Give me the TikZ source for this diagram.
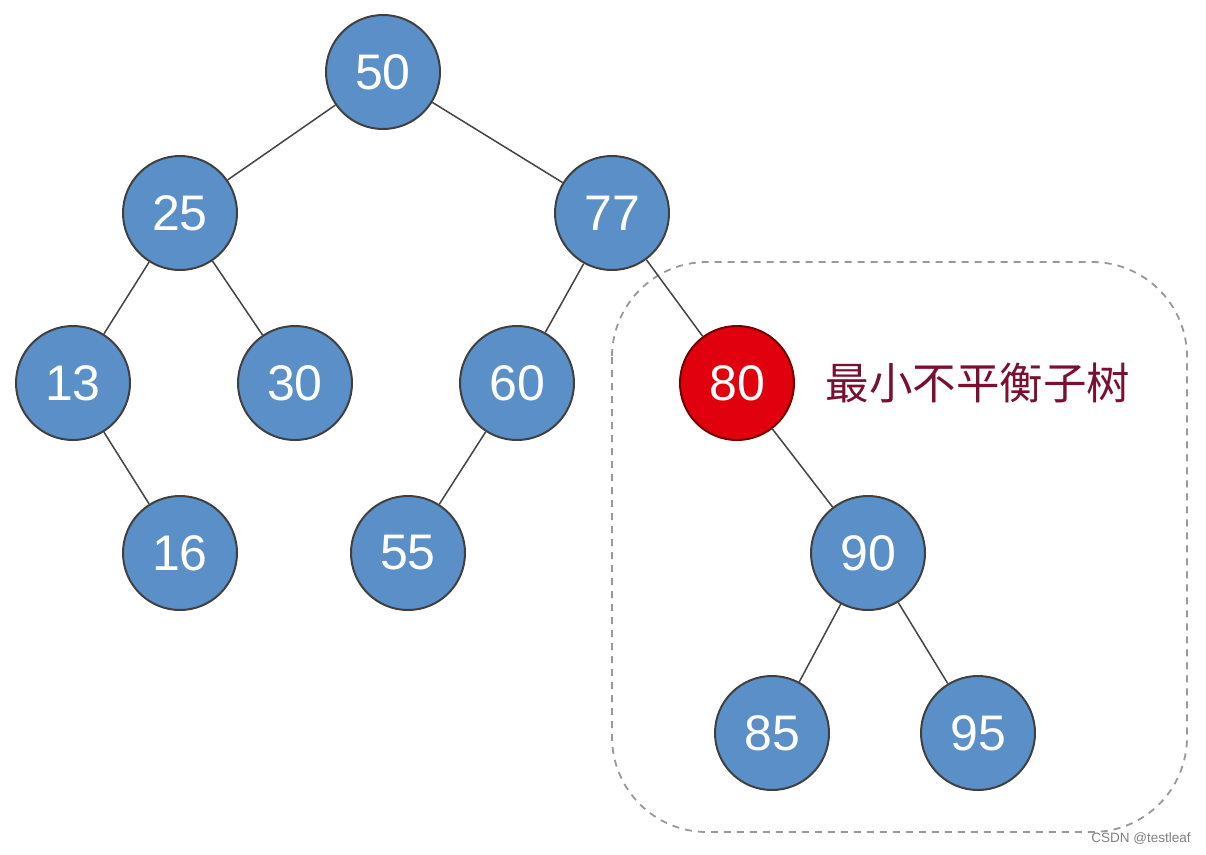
\documentclass[tikz,border=0pt]{standalone}
\usepackage{fontspec}
\setmainfont{Liberation Sans}
\newfontfamily\cjk{Noto Sans CJK SC}
\definecolor{nodeblue}{HTML}{5B8FC7}
\definecolor{nodered}{HTML}{E0000E}
\definecolor{labelred}{HTML}{7A1030}
\definecolor{edgegray}{HTML}{444444}
\begin{document}
\begin{tikzpicture}[x=1pt,y=-1pt,
  tnode/.style={circle,draw=black!75,line width=2pt,fill=nodeblue,minimum size=114pt,inner sep=0pt,text=white,font=\fontsize{50}{50}\selectfont},
  rnode/.style={tnode,fill=nodered,draw=red!45!black},
  edge/.style={draw=edgegray,line width=1.5pt}]
\useasboundingbox (0,0) rectangle (1206,854);
\fill[white] (0,0) rectangle (1206,854);
\draw[gray!80,dashed,line width=1.8pt,dash pattern=on 7pt off 6pt,rounded corners=95pt] (612,262) rectangle (1187,832);
\node[tnode] (n50) at (383,72) {50};
\node[tnode] (n25) at (180,213) {25};
\node[tnode] (n77) at (612,213) {77};
\node[tnode] (n13) at (73,383) {13};
\node[tnode] (n30) at (295,383) {30};
\node[tnode] (n60) at (517,383) {60};
\node[rnode] (n80) at (737,383) {80};
\node[tnode] (n16) at (180,553) {16};
\node[tnode] (n55) at (408,553) {55};
\node[tnode] (n90) at (868,553) {90};
\node[tnode] (n85) at (772,733) {85};
\node[tnode] (n95) at (978,733) {95};
\node[text=labelred,font=\cjk\fontsize{43.5}{43.5}\selectfont] (lbl) at (978,383) {最小不平衡子树};
\node[text=gray,font=\fontsize{13.5}{13.5}\selectfont] (wm) at (1141,839) {CSDN @testleaf};
\draw[edge] (n50) -- (n25);
\draw[edge] (n50) -- (n77);
\draw[edge] (n25) -- (n13);
\draw[edge] (n25) -- (n30);
\draw[edge] (n13) -- (n16);
\draw[edge] (n77) -- (n60);
\draw[edge] (n77) -- (n80);
\draw[edge] (n60) -- (n55);
\draw[edge] (n80) -- (n90);
\draw[edge] (n90) -- (n85);
\draw[edge] (n90) -- (n95);
\end{tikzpicture}
\end{document}
